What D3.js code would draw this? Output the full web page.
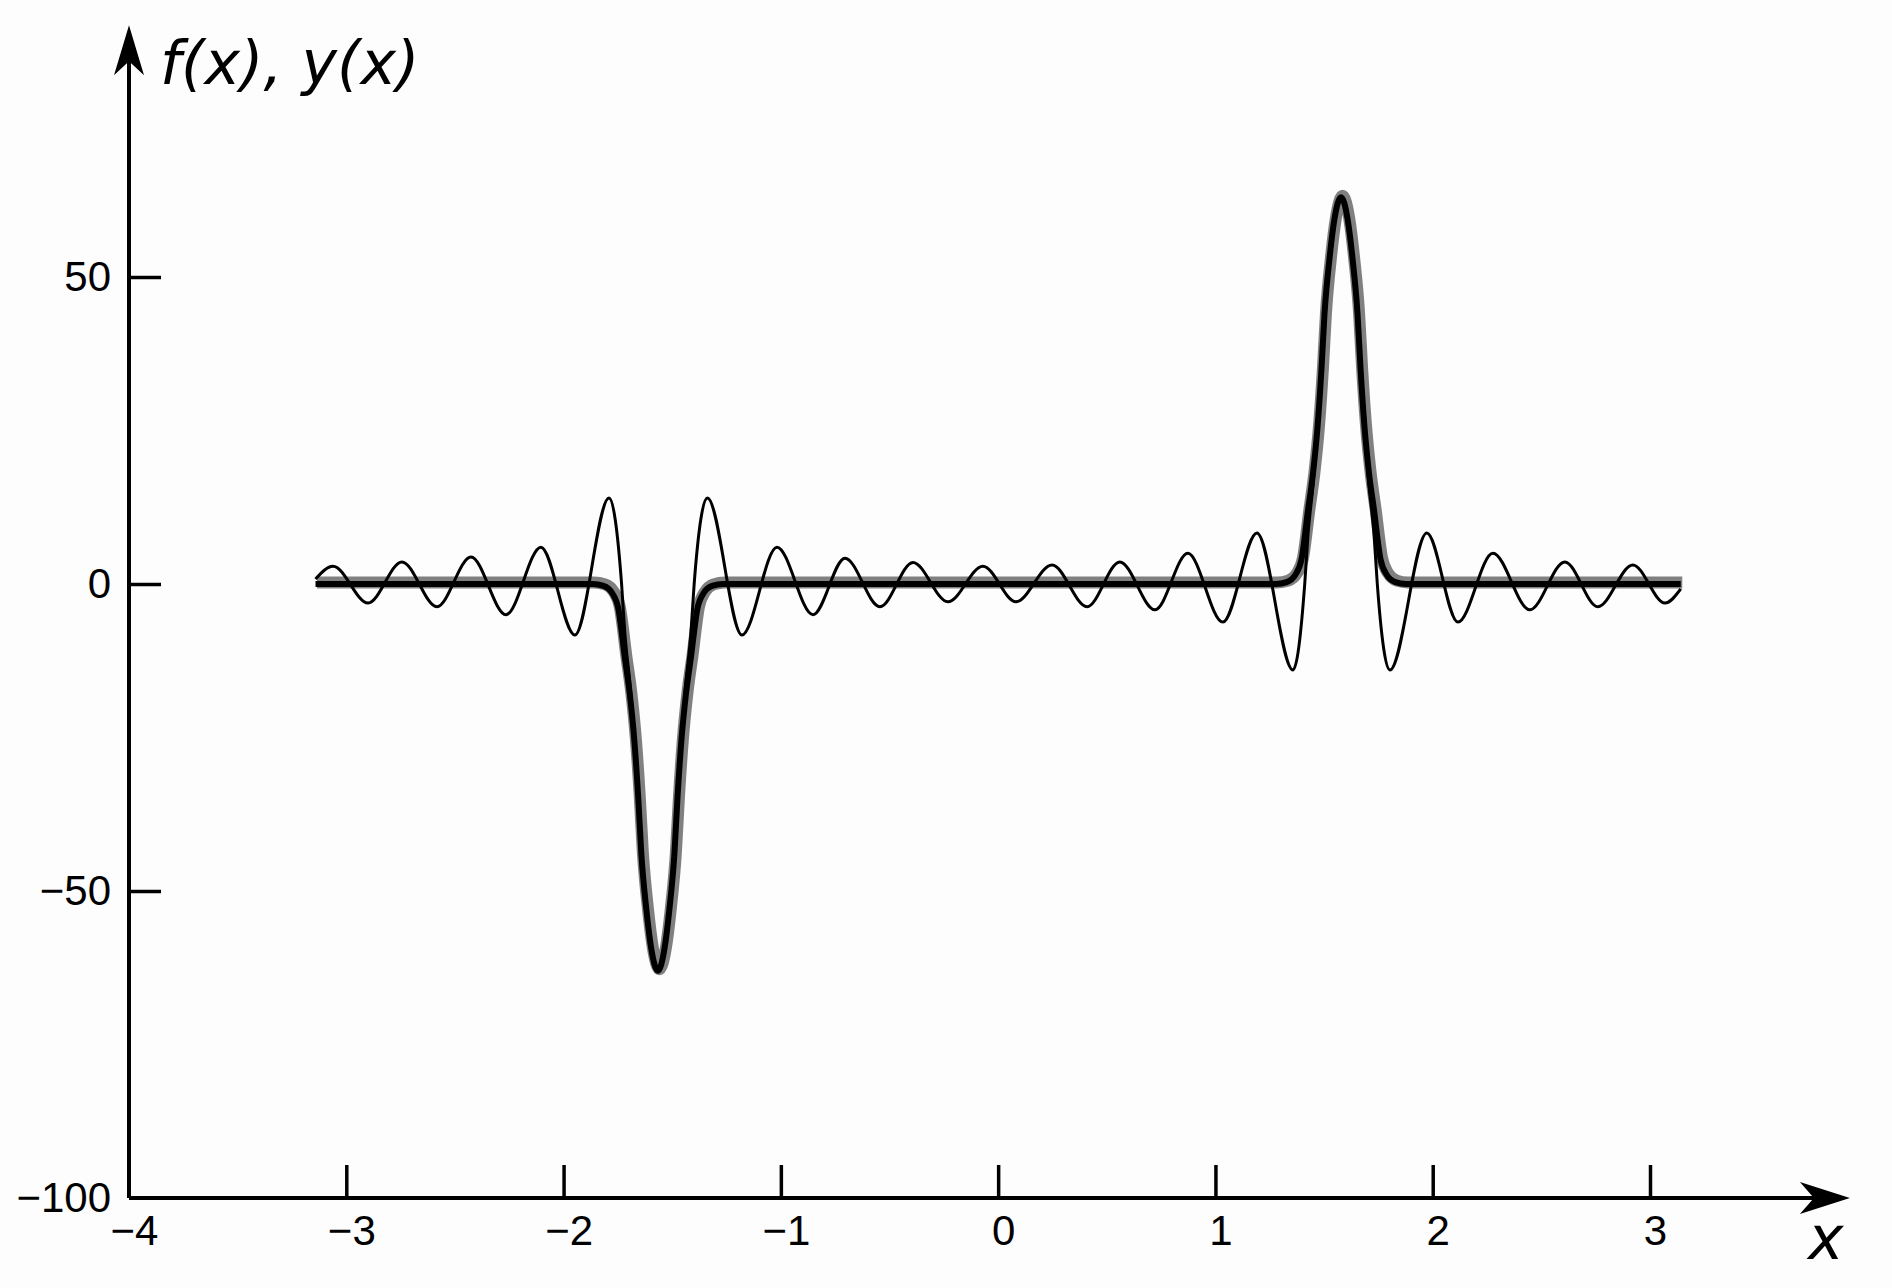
<!DOCTYPE html>
<html>
<head>
<meta charset="utf-8">
<script src="https://cdn.jsdelivr.net/npm/d3@7"></script>
<style>
  html, body { margin: 0; padding: 0; background: #fdfdfd; }
  svg { display: block; }
  .tick text { font-family: "Liberation Sans", Arial, sans-serif; font-size: 42px; fill: #000; }
  .title { font-family: "DejaVu Sans", Verdana, sans-serif; font-style: italic; font-size: 60px; fill: #000; }
</style>
</head>
<body>
<svg id="chart" width="1892" height="1288"></svg>
<script>
// ---------- data ----------
const xTickValues = [-4, -3, -2, -1, 0, 1, 2, 3];
const yTickValues = [-100, -50, 0, 50];

// oscillating curve (thin line)
const thinX = [-3.1416, -3.061, -2.900, -2.744, -2.583, -2.426, -2.265, -2.104, -1.948, -1.791,
  -1.733, -1.718, -1.695, -1.674, -1.656, -1.642, -1.619, -1.596, -1.566, -1.536, -1.513, -1.490,
  -1.476, -1.458, -1.437, -1.414, -1.399,
  -1.338, -1.179, -1.018, -0.852, -0.705, -0.544, -0.392, -0.231, -0.070, 0.082, 0.248, 0.409,
  0.560, 0.722, 0.873, 1.034, 1.191, 1.357,
  1.411, 1.426, 1.449, 1.470, 1.488, 1.502, 1.525, 1.548, 1.578, 1.608, 1.631, 1.654, 1.668,
  1.686, 1.707, 1.730, 1.745,
  1.803, 1.973, 2.116, 2.277, 2.447, 2.608, 2.760, 2.921, 3.069, 3.1416];
const thinY = [0.8, 2.9, -3.1, 3.6, -3.7, 4.4, -5.0, 6.0, -8.3, 14.0,
  0, -8, -16, -25, -34, -43, -53, -59, -63, -59, -53, -43,
  -34, -25, -16, -8, 0,
  14.0, -8.3, 6.0, -5.0, 4.2, -3.7, 3.5, -2.9, 2.9, -2.9, 3.1, -3.7,
  3.6, -4.2, 5.0, -6.2, 8.3, -14.0,
  0, 8, 16, 25, 34, 43, 53, 59, 63, 59, 53, 43, 34,
  25, 16, 8, 0,
  -14.0, 8.3, -6.2, 5.0, -4.2, 3.6, -3.7, 3.1, -3.1, -0.8];

// smooth pulse curve (thick line)
const thickX = [-3.1416, -2.0, -1.866, -1.816, -1.776, -1.748, -1.718, -1.695, -1.674, -1.656,
  -1.642, -1.619, -1.596, -1.566, -1.536, -1.513, -1.490, -1.476, -1.458, -1.437, -1.414,
  -1.384, -1.356, -1.316, -1.266, -1.0, 0, 1.0, 1.278, 1.328, 1.368, 1.396, 1.426, 1.449,
  1.470, 1.488, 1.502, 1.525, 1.548, 1.578, 1.608, 1.631, 1.654, 1.668, 1.686, 1.707, 1.730,
  1.760, 1.788, 1.828, 1.878, 2.5, 3.1416];
const thickY = [0, 0, 0, -0.3, -1.5, -4, -12, -18, -25.6, -35,
  -44, -53, -59.5, -63, -59.5, -53, -44, -35, -25.6, -18, -12,
  -4, -1.5, -0.3, 0, 0, 0, 0, 0, 0.3, 1.5, 4, 12, 18,
  25.6, 35, 44, 53, 59.5, 63, 59.5, 53, 44, 35, 25.6, 18, 12,
  4, 1.5, 0.3, 0, 0, 0];

const xAxisEnd = 3.92;   // arrow tip, in x units
const yAxisEnd = 91;     // arrow tip, in y units

// ---------- scales ----------
const svg = d3.select("#chart");
const x = d3.scaleLinear().domain([-4, 3]).range([129, 1650]);
const y = d3.scaleLinear().domain([-100, 50]).range([1198, 277]);

svg.append("rect").attr("x", 0).attr("y", 0).attr("width", 1892).attr("height", 1288).attr("fill", "#fdfdfd");

// ---------- curves ----------
const line = d3.line().x(d => x(d[0])).y(d => y(d[1])).curve(d3.curveMonotoneX);
const thickData = thickX.map((v, i) => [v, thickY[i]]);
const thinData = thinX.map((v, i) => [v, thinY[i]]);

svg.append("path").datum(thickData).attr("d", line)
  .attr("fill", "none").attr("stroke", "#808080").attr("stroke-width", 12)
  .attr("stroke-linejoin", "round").attr("transform", "translate(1.5,-1.5)");
svg.append("path").datum(thickData).attr("d", line)
  .attr("fill", "none").attr("stroke", "#000").attr("stroke-width", 6)
  .attr("stroke-linejoin", "round");
svg.append("path").datum(thinData).attr("d", line)
  .attr("fill", "none").attr("stroke", "#000").attr("stroke-width", 3)
  .attr("stroke-linejoin", "round");

// ---------- axes ----------
const fmt = d => (d < 0 ? "\u2212" : "") + Math.abs(d);

const gx = svg.append("g").attr("transform", `translate(0,${y(-100)})`)
  .call(d3.axisBottom(x).tickValues(xTickValues).tickSize(-33).tickPadding(17).tickFormat(fmt));
gx.select(".domain").remove();
gx.selectAll(".tick line").attr("stroke", "#000").attr("stroke-width", 3.5);
gx.selectAll(".tick text").attr("dx", 5);

const gy = svg.append("g").attr("transform", `translate(${x(-4)},0)`)
  .call(d3.axisLeft(y).tickValues(yTickValues).tickSize(-32).tickPadding(18).tickFormat(fmt));
gy.select(".domain").remove();
gy.selectAll(".tick line").attr("stroke", "#000").attr("stroke-width", 3.5);
gy.selectAll(".tick").filter(d => d === -100).select("line").remove();
gx.selectAll(".tick").filter(d => d === -4).select("line").remove();

// axis lines
svg.append("line").attr("x1", x(-4)).attr("y1", y(-100)).attr("x2", x(xAxisEnd) - 20).attr("y2", y(-100))
  .attr("stroke", "#000").attr("stroke-width", 4);
svg.append("line").attr("x1", x(-4)).attr("y1", y(-100)).attr("x2", x(-4)).attr("y2", y(yAxisEnd) + 20)
  .attr("stroke", "#000").attr("stroke-width", 4);

// arrow heads
const tx = x(xAxisEnd), ty = y(-100);
svg.append("path")
  .attr("d", `M${tx},${ty} L${tx - 50},${ty - 16} L${tx - 36},${ty} L${tx - 50},${ty + 16} Z`)
  .attr("fill", "#000");
const ax = x(-4), ay = y(yAxisEnd);
svg.append("path")
  .attr("d", `M${ax},${ay} L${ax - 15},${ay + 50} L${ax},${ay + 36} L${ax + 15},${ay + 50} Z`)
  .attr("fill", "#000");

// axis titles
svg.append("text").attr("class", "title").attr("x", 160).attr("y", 84).text("f(x), y(x)");
svg.append("text").attr("class", "title").attr("x", 1808).attr("y", 1259).text("x");
</script>
</body>
</html>
